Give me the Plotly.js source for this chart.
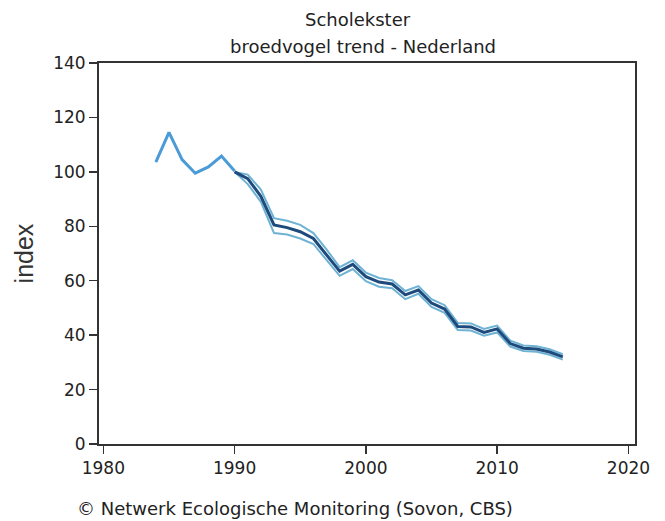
<!DOCTYPE html>
<html>
<head>
<meta charset="utf-8">
<script src="https://cdn.plot.ly/plotly-3.0.1.min.js"></script>
<style>html,body{margin:0;padding:0;background:#fff;}#chart{width:665px;height:521px;}</style>
</head>
<body>
<div id="chart"></div>
<script>
const yearsEarly = [1984, 1985, 1986, 1987, 1988, 1989, 1990];
const indexEarly = [103.6, 114.5, 104.5, 99.5, 101.8, 105.8, 100.3];

const years = [1990, 1991, 1992, 1993, 1994, 1995, 1996, 1997, 1998, 1999, 2000, 2001, 2002, 2003, 2004, 2005, 2006, 2007, 2008, 2009, 2010, 2011, 2012, 2013, 2014, 2015];
const indexVals = [100, 97.5, 91, 80.5, 79.5, 78, 75.5, 69.5, 63.5, 66, 61.5, 59.5, 58.8, 54.8, 56.6, 51.8, 49.6, 43.2, 43, 41, 42.3, 36.9, 35.2, 34.9, 33.8, 32];
const upperVals = [100, 99, 93.5, 83, 82, 80.5, 77.5, 71.5, 65, 67.5, 63, 61, 60.2, 56.2, 58, 53.2, 51, 44.5, 44.3, 42.3, 43.5, 38, 36.2, 35.9, 34.8, 33];
const lowerVals = [100, 95.5, 89, 77.5, 77, 75.5, 73.5, 67.5, 61.8, 64.3, 59.8, 57.8, 57.2, 53.2, 55.2, 50.4, 48.2, 41.9, 41.7, 39.8, 41, 35.8, 34.2, 33.9, 32.8, 31];

const xTicks = [1980, 1990, 2000, 2010, 2020];
const yTicks = [0, 20, 40, 60, 80, 100, 120, 140];

const font = "DejaVu Sans, sans-serif";

const traces = [
  {x: yearsEarly, y: indexEarly, mode: 'lines', line: {color: 'rgb(74,155,215)', width: 3}, hoverinfo: 'skip'},
  {x: years, y: upperVals, mode: 'lines', line: {color: 'rgb(110,178,212)', width: 2}, hoverinfo: 'skip'},
  {x: years, y: lowerVals, mode: 'lines', line: {color: 'rgb(110,178,212)', width: 2}, hoverinfo: 'skip'},
  {x: years, y: indexVals, mode: 'lines', line: {color: 'rgb(30,74,124)', width: 3}, hoverinfo: 'skip'}
];

const layout = {
  width: 665, height: 521,
  margin: {l: 99, r: 30, t: 63, b: 77},
  paper_bgcolor: '#fff', plot_bgcolor: '#fff',
  showlegend: false,
  xaxis: {
    range: [1979.67, 2020.5], tickvals: xTicks, ticktext: xTicks.map(String),
    showgrid: false, zeroline: false, showline: true, linecolor: '#333', linewidth: 2, mirror: true,
    ticks: 'outside', ticklen: 8, tickwidth: 1.5, tickcolor: '#333',
    tickfont: {family: font, size: 17, color: '#222'}
  },
  yaxis: {
    range: [0, 140], tickvals: yTicks, ticktext: yTicks.map(String),
    showgrid: false, zeroline: false, showline: true, linecolor: '#333', linewidth: 2, mirror: true,
    ticks: 'outside', ticklen: 8, tickwidth: 1.5, tickcolor: '#333',
    tickfont: {family: font, size: 17, color: '#222'},
    title: {text: 'index', font: {family: 'Liberation Sans, Arial, sans-serif', size: 25, color: '#333'}, standoff: 12}
  },
  annotations: [
    {xref: 'paper', yref: 'paper', x: 0.483, y: 1.1129, xanchor: 'center', yanchor: 'middle', showarrow: false,
     text: 'Scholekster', font: {family: font, size: 18, color: '#222'}},
    {xref: 'paper', yref: 'paper', x: 0.492, y: 1.0446, xanchor: 'center', yanchor: 'middle', showarrow: false,
     text: 'broedvogel trend - Nederland', font: {family: font, size: 18, color: '#222'}},
    {xref: 'paper', yref: 'paper', x: -0.0448, y: -0.168, xanchor: 'left', yanchor: 'middle', showarrow: false,
     text: '© Netwerk Ecologische Monitoring (Sovon, CBS)', font: {family: font, size: 18, color: '#222'}}
  ]
};

Plotly.newPlot('chart', traces, layout, {staticPlot: true, displayModeBar: false});
</script>
</body>
</html>
